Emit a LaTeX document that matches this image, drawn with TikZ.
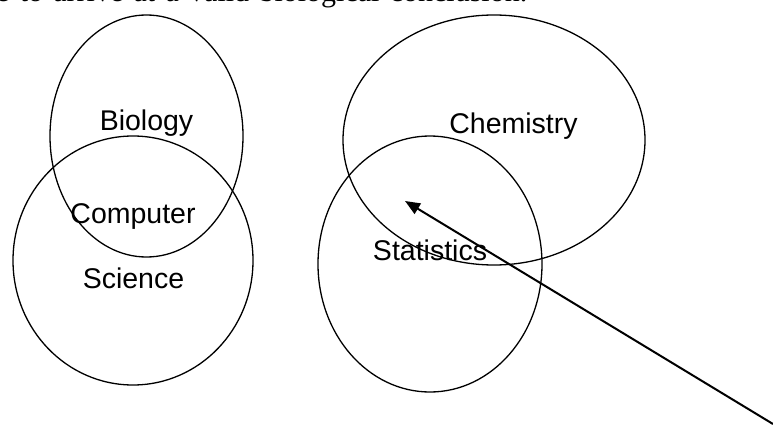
\documentclass[tikz,border=0pt]{standalone}
\usepackage{fontspec}
\setmainfont{Liberation Serif}
\newfontfamily\arialfont{Liberation Sans}
\usetikzlibrary{shapes.geometric,arrows.meta}
\tikzset{
  setbox/.style={draw=black, line width=1.3pt, ellipse, inner sep=0pt},
  setlabel/.style={anchor=base, inner sep=0pt, font=\arialfont\fontsize{28.5}{30}\selectfont},
  pointer/.style={draw=black, line width=2pt, -{Triangle[length=15pt,width=12pt]}}
}
\begin{document}
\begin{tikzpicture}[x=1pt,y=-1pt]
\useasboundingbox (0,0) rectangle (773,425);
% top text (cut off)
\node[anchor=base west, inner sep=0pt, font=\fontsize{30}{32}\selectfont] (toptext) at (-4,2)
  {\makebox[531pt][s]{e to arrive at a valid biological conclusion.}};
% ellipses
\node[setbox, minimum width=193pt, minimum height=242pt] (bio) at (146.5,136) {};
\node[setbox, minimum width=240pt, minimum height=249pt] (cs) at (133,260.5) {};
\node[setbox, minimum width=302pt, minimum height=250pt] (chem) at (494,140) {};
\node[setbox, minimum width=224pt, minimum height=256pt] (stat) at (430,264) {};
% labels
\node[setlabel] (lbio) at (146.5,131) {Biology};
\node[setlabel] (lcomp) at (133,223) {Computer};
\node[setlabel] (lsci) at (133.5,288) {Science};
\node[setlabel] (lchem) at (513.5,134) {Chemistry};
\node[setlabel] (lstat) at (430,260) {Statistics};
% arrow
\coordinate (astart) at (773,424);
\coordinate (aend) at (405,201);
\draw[pointer] (astart) -- (aend);
\end{tikzpicture}
\end{document}
